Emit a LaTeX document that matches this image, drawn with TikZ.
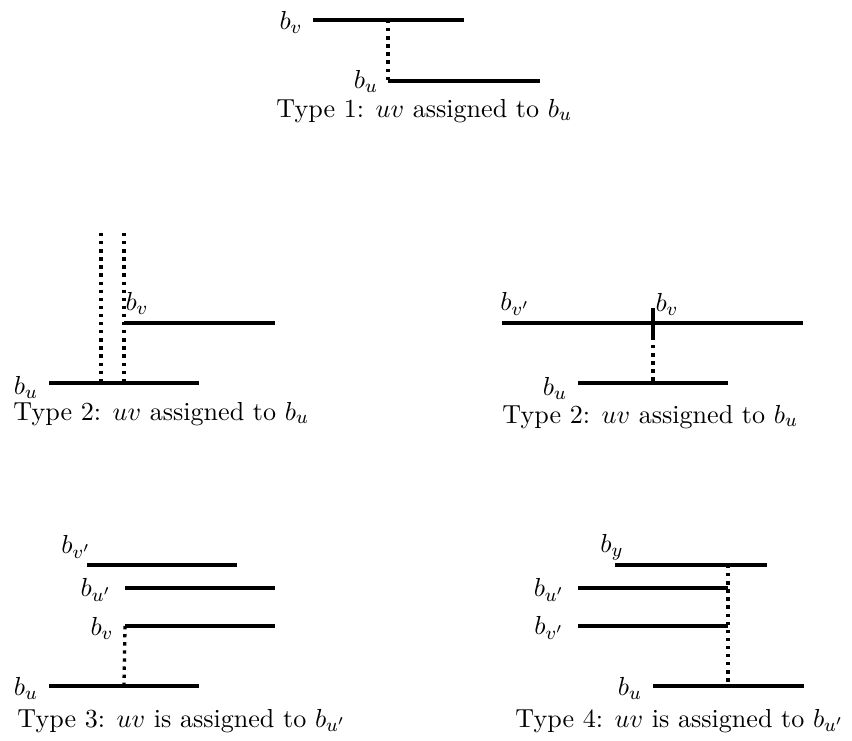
\documentclass[tikz,border=0pt]{standalone}
\usetikzlibrary{positioning}
\tikzset{
  seg/.style={line width=1.7pt},
  tie/.style={line width=1.4pt,dotted},
  tick/.style={line width=1.7pt},
  lbl/.style={inner sep=0pt},
  capt/.style={inner sep=0pt,anchor=base west}
}
\begin{document}
\begin{tikzpicture}[x=0.42pt,y=-0.42pt,every node/.style={font=\fontsize{10.95}{13}\selectfont}]
  \useasboundingbox (0,0) rectangle (852,740);

  % type 1
  \coordinate (a1) at (313,20);  \coordinate (a2) at (464,20);
  \coordinate (a3) at (388,20);
  \coordinate (b1) at (388,81);  \coordinate (b2) at (540,81);
  \draw[seg] (a1) -- (a2);
  \draw[seg] (b1) -- (b2);
  \draw[tie] (a3) -- (b1);
  \node[lbl] (bv1) at (291,22) {$b_v$};
  \node[lbl] (bu1) at (366,81) {$b_u$};
  \node[capt] (cap1) at (276,117) {Type 1: $uv$ assigned to $b_u$};

  % type 2, left
  \coordinate (c1) at (124,323); \coordinate (c2) at (275,323);
  \coordinate (d1) at (49,383);  \coordinate (d2) at (199,383);
  \coordinate (d3) at (101,383); \coordinate (d4) at (124,383);
  \coordinate (e1) at (101,233); \coordinate (e2) at (124,233);
  \draw[seg] (c1) -- (c2);
  \draw[seg] (d1) -- (d2);
  \draw[tie] (e1) -- (d3);
  \draw[tie] (e2) -- (d4);
  \node[lbl] (bv2) at (137,303) {$b_v$};
  \node[lbl] (bu2) at (26,387) {$b_u$};
  \node[capt] (cap2) at (13,420) {Type 2: $uv$ assigned to $b_u$};

  % type 2, right
  \coordinate (f1) at (502,323); \coordinate (f2) at (803,323);
  \coordinate (f3) at (653,308); \coordinate (f4) at (653,337);
  \coordinate (g1) at (578,383); \coordinate (g2) at (728,383);
  \coordinate (g3) at (653,383);
  \draw[seg] (f1) -- (f2);
  \draw[tick] (f3) -- (f4);
  \draw[tie] (f4) -- (g3);
  \draw[seg] (g1) -- (g2);
  \node[lbl] (bvp3) at (515,304) {$b_{v'}$};
  \node[lbl] (bv3) at (667,304) {$b_v$};
  \node[lbl] (bu3) at (555,388) {$b_u$};
  \node[capt] (cap3) at (502,423) {Type 2: $uv$ assigned to $b_u$};

  % type 3
  \coordinate (h1) at (87,565);  \coordinate (h2) at (237,565);
  \coordinate (i1) at (125,588); \coordinate (i2) at (275,588);
  \coordinate (j1) at (125,626); \coordinate (j2) at (275,626);
  \coordinate (k1) at (49,686);  \coordinate (k2) at (199,686);
  \coordinate (k3) at (124,686);
  \draw[seg] (h1) -- (h2);
  \draw[seg] (i1) -- (i2);
  \draw[seg] (j1) -- (j2);
  \draw[seg] (k1) -- (k2);
  \draw[tie] (j1) -- (k3);
  \node[lbl] (bvp4) at (76,547) {$b_{v'}$};
  \node[lbl] (bup4) at (96,590) {$b_{u'}$};
  \node[lbl] (bv4) at (102,628) {$b_v$};
  \node[lbl] (bu4) at (26,688) {$b_u$};
  \node[capt] (cap4) at (17,727) {Type 3: $uv$ is assigned to $b_{u'}$};

  % type 4
  \coordinate (m1) at (615,565); \coordinate (m2) at (767,565);
  \coordinate (m3) at (728,565);
  \coordinate (n1) at (578,588); \coordinate (n2) at (728,588);
  \coordinate (o1) at (578,626); \coordinate (o2) at (728,626);
  \coordinate (p1) at (653,686); \coordinate (p2) at (804,686);
  \coordinate (p3) at (728,686);
  \draw[seg] (m1) -- (m2);
  \draw[seg] (n1) -- (n2);
  \draw[seg] (o1) -- (o2);
  \draw[seg] (p1) -- (p2);
  \draw[tie] (m3) -- (p3);
  \node[lbl] (by5) at (612,547) {$b_y$};
  \node[lbl] (bup5) at (549,590) {$b_{u'}$};
  \node[lbl] (bvp5) at (549,628) {$b_{v'}$};
  \node[lbl] (bu5) at (630,688) {$b_u$};
  \node[capt] (cap5) at (515,727) {Type 4: $uv$ is assigned to $b_{u'}$};
\end{tikzpicture}
\end{document}
